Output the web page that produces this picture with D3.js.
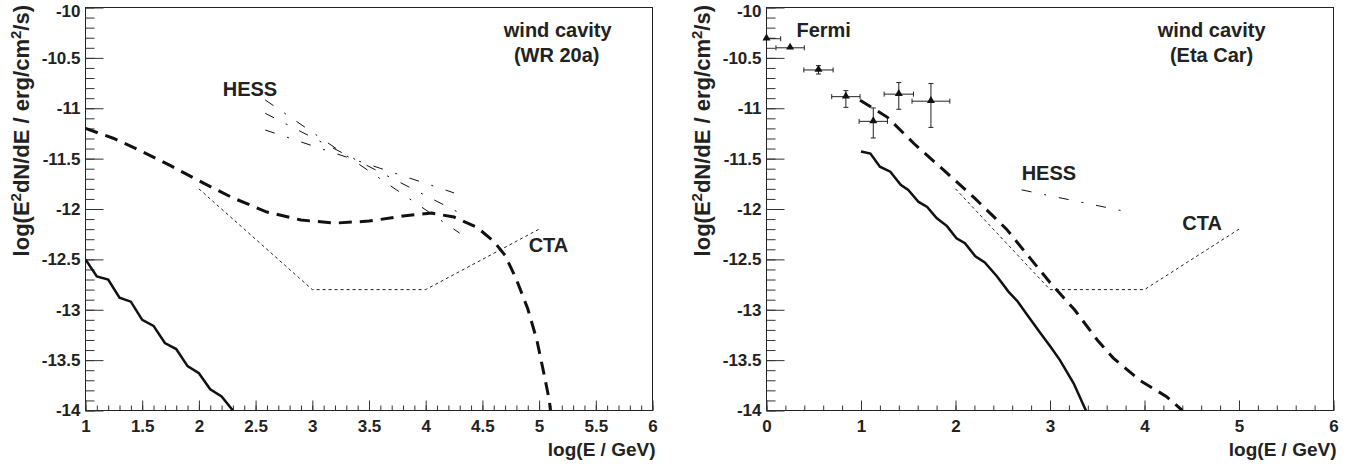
<!DOCTYPE html>
<html>
<head>
<meta charset="utf-8">
<script src="https://cdn.jsdelivr.net/npm/d3@7"></script>
<style>
body { margin: 0; background: #fff; }
text { font-family: "Liberation Sans", Arial, Helvetica, sans-serif; font-weight: bold; fill: #222; }
</style>
</head>
<body>
<script>
// ---- data (log10 E/GeV , log10 E^2 dN/dE) ----
var yMajor = [-10, -10.5, -11, -11.5, -12, -12.5, -13, -13.5, -14];
var xMajorWR = [1, 1.5, 2, 2.5, 3, 3.5, 4, 4.5, 5, 5.5, 6];
var xMajorEta = [0, 1, 2, 3, 4, 5, 6];

// WR 20a panel
var wrSolid = [[1.0,-12.5],[1.10,-12.67],[1.20,-12.70],[1.30,-12.88],[1.40,-12.92],[1.50,-13.10],
  [1.60,-13.16],[1.70,-13.33],[1.80,-13.39],[1.90,-13.56],[2.00,-13.63],[2.10,-13.79],[2.20,-13.86],[2.30,-14.0]];
var wrDashed = [[1.0,-11.20],[1.25,-11.30],[1.5,-11.43],[1.75,-11.57],[2.0,-11.72],[2.3,-11.89],[2.6,-12.03],
  [2.9,-12.11],[3.2,-12.14],[3.5,-12.12],[3.8,-12.07],[4.05,-12.04],[4.25,-12.08],[4.45,-12.18],[4.6,-12.32],
  [4.7,-12.46],[4.8,-12.70],[4.9,-12.99],[4.98,-13.30],[5.04,-13.62],[5.09,-13.90],[5.10,-14.0]];
var hessWrShallow = [[2.585,-11.216],[4.25,-11.84]];
var hessWrCentral = [[2.585,-11.05],[4.3,-12.04]];
var hessWrSteep = [[2.585,-10.918],[4.3,-12.24]];

// CTA sensitivity (same in both panels)
var cta = [[2,-11.8],[3,-12.8],[4,-12.8],[5,-12.2]];

// Eta Car panel
var etaSolid = [[1.0,-11.43],[1.10,-11.45],[1.20,-11.58],[1.31,-11.63],[1.42,-11.76],[1.50,-11.81],[1.61,-11.93],
  [1.70,-11.98],[1.80,-12.09],[1.91,-12.17],[2.01,-12.29],[2.10,-12.34],[2.21,-12.47],[2.31,-12.53],[2.44,-12.67],
  [2.56,-12.82],[2.66,-12.92],[2.75,-13.04],[2.89,-13.22],[3.0,-13.36],[3.105,-13.50],[3.25,-13.73],[3.38,-14.0]];
var etaDashed = [[0.99,-10.92],[1.28,-11.09],[1.56,-11.35],[1.87,-11.61],[2.2,-11.89],[2.54,-12.20],[2.8,-12.50],
  [3.0,-12.73],[3.26,-13.00],[3.5,-13.30],[3.67,-13.48],[3.95,-13.70],[4.23,-13.86],[4.4,-14.0]];
var hessEta = [[2.7,-11.81],[3.88,-12.04]];

var fermiLogE = [0.0, 0.25, 0.55, 0.84, 1.13, 1.40, 1.74];
var fermiFlux = [-10.31, -10.40, -10.62, -10.885, -11.13, -10.86, -10.93];
var fermiDx   = [0.15, 0.15, 0.155, 0.15, 0.15, 0.155, 0.2];
var fermiUp   = [0.0, 0.0, 0.043, 0.06, 0.133, 0.115, 0.175];
var fermiDown = [0.0, 0.0, 0.04, 0.106, 0.165, 0.15, 0.26];

var W = 1353, H = 468;
var svg = d3.select("body").append("svg").attr("width", W).attr("height", H);

function panel(id, xDomain, left, right, xMajor, xMinorStep) {
  var x = d3.scaleLinear().domain(xDomain).range([left, right]);
  var y = d3.scaleLinear().domain([-14, -10]).range([410.5, 7.5]);
  var g = svg.append("g");

  svg.append("clipPath").attr("id", id)
    .append("rect").attr("x", left).attr("y", y(-10)).attr("width", right - left).attr("height", y(-14) - y(-10));

  g.append("rect").attr("x", left).attr("y", y(-10)).attr("width", right - left).attr("height", y(-14) - y(-10))
    .attr("fill", "none").attr("stroke", "#222").attr("stroke-width", 1);

  var xMinor = d3.range(xDomain[0], xDomain[1] + 1e-6, xMinorStep);
  var yMinor = d3.range(-14, -10 + 1e-6, 0.1);

  function clean(a) { a.select(".domain").remove(); a.selectAll("line").attr("stroke", "#333"); }

  g.append("g").attr("transform", "translate(0," + y(-14) + ")")
    .call(d3.axisBottom(x).tickValues(xMinor).tickSize(-5).tickFormat("")).call(clean);
  g.append("g").attr("transform", "translate(0," + y(-14) + ")")
    .call(d3.axisBottom(x).tickValues(xMajor).tickSize(-10).tickPadding(9).tickFormat(String))
    .call(clean)
    .selectAll("text").style("font-size", "17px");
  g.append("g").attr("transform", "translate(" + left + ",0)")
    .call(d3.axisLeft(y).tickValues(yMinor).tickSize(-9).tickFormat("")).call(clean);
  g.append("g").attr("transform", "translate(" + left + ",0)")
    .call(d3.axisLeft(y).tickValues(yMajor).tickSize(-18).tickPadding(5).tickFormat(String))
    .call(clean)
    .selectAll("text").style("font-size", "17px")
    .attr("dy", function(d) { return d === -10 ? "0.5em" : "0.32em"; });
  g.selectAll(".tick text").attr("fill", "#222").attr("font-family", null);

  // axis titles
  g.append("text").attr("x", right + 3).attr("y", 456).attr("text-anchor", "end")
    .style("font-size", "19px").text("log(E / GeV)");
  var t = g.append("text").attr("transform", "translate(" + (left - 56.5) + ",5) rotate(-90)")
    .attr("text-anchor", "end").style("font-size", "22px");
  t.append("tspan").text("log(E");
  t.append("tspan").attr("dy", -8).style("font-size", "15px").text("2");
  t.append("tspan").attr("dy", 8).text("dN/dE / erg/cm");
  t.append("tspan").attr("dy", -8).style("font-size", "15px").text("2");
  t.append("tspan").attr("dy", 8).text("/s)");

  var plot = g.append("g").attr("clip-path", "url(#" + id + ")");
  var line = d3.line().x(function(d) { return x(d[0]); }).y(function(d) { return y(d[1]); });
  return { x: x, y: y, g: g, plot: plot, line: line };
}

function label(p, pos, txt, anchor) {
  p.g.append("text").attr("x", p.x(pos[0])).attr("y", p.y(pos[1]))
    .attr("text-anchor", anchor || "start").style("font-size", "20px").text(txt);
}

// ---------- left: WR 20a ----------
var L = panel("clipL", [1, 6], 85.5, 652.5, xMajorWR, 0.1);

L.plot.append("path").attr("d", L.line(cta)).attr("fill", "none")
  .attr("stroke", "#222").attr("stroke-width", 1).attr("stroke-dasharray", "3,3");
[hessWrShallow, hessWrCentral, hessWrSteep].forEach(function(h) {
  L.plot.append("path").attr("d", L.line(h)).attr("fill", "none")
    .attr("stroke", "#111").attr("stroke-width", 1).attr("stroke-dasharray", "10,13,2,13");
});
L.plot.append("path").attr("d", L.line(wrDashed)).attr("fill", "none")
  .attr("stroke", "#111").attr("stroke-width", 3).attr("stroke-dasharray", "13,8");
L.plot.append("path").attr("d", L.line(wrSolid)).attr("fill", "none")
  .attr("stroke", "#111").attr("stroke-width", 2.5);

label(L, [2.21, -10.88], "HESS");
label(L, [4.908, -12.427], "CTA");
label(L, [5.164, -10.293], "wind cavity", "middle");
label(L, [5.155, -10.54], "(WR 20a)", "middle");

// ---------- right: Eta Car ----------
var R = panel("clipR", [0, 6], 766.5, 1333.5, xMajorEta, 0.2);

R.plot.append("path").attr("d", R.line(cta)).attr("fill", "none")
  .attr("stroke", "#222").attr("stroke-width", 1).attr("stroke-dasharray", "3,3");
R.plot.append("path").attr("d", R.line(hessEta)).attr("fill", "none")
  .attr("stroke", "#111").attr("stroke-width", 1).attr("stroke-dasharray", "10,13,2,13");
R.plot.append("path").attr("d", R.line(etaDashed)).attr("fill", "none")
  .attr("stroke", "#111").attr("stroke-width", 3).attr("stroke-dasharray", "13,8");
R.plot.append("path").attr("d", R.line(etaSolid)).attr("fill", "none")
  .attr("stroke", "#111").attr("stroke-width", 2.5);

// Fermi points with error bars
var fermi = fermiLogE.map(function(e, i) {
  return { e: e, f: fermiFlux[i], dx: fermiDx[i], up: fermiUp[i], dn: fermiDown[i] };
});
var eb = R.plot.append("g").attr("stroke", "#222").attr("stroke-width", 1);
fermi.forEach(function(d) {
  var x0 = R.x(d.e - d.dx), x1 = R.x(d.e + d.dx), yc = R.y(d.f);
  eb.append("line").attr("x1", x0).attr("x2", x1).attr("y1", yc).attr("y2", yc);
  eb.append("line").attr("x1", x0).attr("x2", x0).attr("y1", yc - 2.5).attr("y2", yc + 2.5);
  eb.append("line").attr("x1", x1).attr("x2", x1).attr("y1", yc - 2.5).attr("y2", yc + 2.5);
  if (d.up > 0) {
    var ya = R.y(d.f + d.up), yb = R.y(d.f - d.dn), xc = R.x(d.e);
    eb.append("line").attr("x1", xc).attr("x2", xc).attr("y1", ya).attr("y2", yb);
    eb.append("line").attr("x1", xc - 2.5).attr("x2", xc + 2.5).attr("y1", ya).attr("y2", ya);
    eb.append("line").attr("x1", xc - 2.5).attr("x2", xc + 2.5).attr("y1", yb).attr("y2", yb);
  }
});
R.g.selectAll(".fermi").data(fermi).enter().append("path").attr("class", "fermi")
  .attr("d", d3.symbol(d3.symbolTriangle).size(28))
  .attr("transform", function(d) { return "translate(" + R.x(d.e) + "," + (R.y(d.f) - 0.5) + ")"; })
  .attr("fill", "#111");

label(R, [0.317, -10.293], "Fermi");
label(R, [2.70, -11.712], "HESS");
label(R, [4.40, -12.21], "CTA");
label(R, [4.71, -10.293], "wind cavity", "middle");
label(R, [4.71, -10.54], "(Eta Car)", "middle");
</script>
</body>
</html>
